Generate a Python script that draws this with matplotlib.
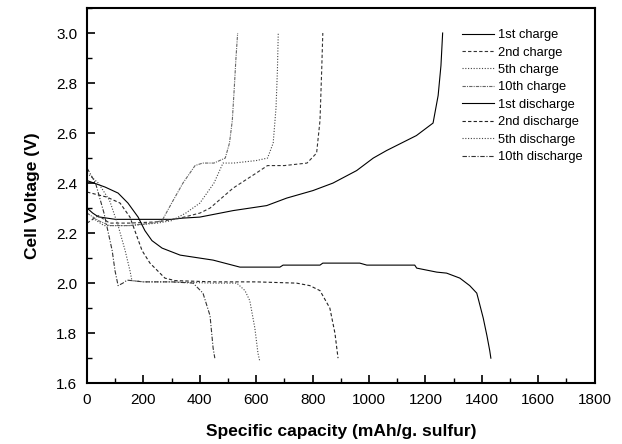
import matplotlib
matplotlib.use("Agg")
import matplotlib.pyplot as plt
from matplotlib.ticker import MultipleLocator

plt.rcParams['font.family'] = ['Liberation Sans', 'DejaVu Sans']

# charge curves (capacity in mAh/g sulfur, voltage in V)
c1_x = [0, 20, 40, 100, 200, 300, 340, 400, 518, 637, 708, 801, 872, 956, 1015, 1062, 1168, 1227, 1245, 1255, 1261]
c1_y = [2.30, 2.28, 2.265, 2.255, 2.255, 2.255, 2.26, 2.264, 2.29, 2.31, 2.34, 2.37, 2.40, 2.45, 2.50, 2.53, 2.59, 2.64, 2.75, 2.87, 3.0]

c2_x = [0, 40, 80, 150, 250, 330, 400, 436, 518, 600, 640, 700, 780, 814, 826, 832, 836]
c2_y = [2.24, 2.27, 2.24, 2.24, 2.245, 2.26, 2.28, 2.30, 2.38, 2.44, 2.47, 2.47, 2.48, 2.52, 2.65, 2.85, 3.0]

c5_x = [20, 60, 150, 250, 300, 350, 400, 450, 482, 520, 600, 640, 660, 670, 675, 678]
c5_y = [2.26, 2.23, 2.23, 2.24, 2.25, 2.28, 2.32, 2.40, 2.48, 2.48, 2.49, 2.50, 2.56, 2.70, 2.85, 3.0]

c10_x = [0, 40, 80, 150, 230, 266, 300, 340, 383, 410, 450, 490, 505, 515, 522, 528, 534]
c10_y = [2.28, 2.25, 2.23, 2.23, 2.24, 2.25, 2.32, 2.40, 2.47, 2.48, 2.48, 2.50, 2.56, 2.65, 2.78, 2.90, 3.0]

# discharge curves
d1_x = [0, 64, 110, 145, 181, 205, 230, 266, 330, 447, 542, 684, 695, 826, 836, 967, 992, 1162, 1169,
        1240, 1275, 1322, 1357, 1382, 1389, 1405, 1418, 1428, 1432]
d1_y = [2.41, 2.384, 2.36, 2.32, 2.264, 2.21, 2.17, 2.14, 2.112, 2.092, 2.064, 2.064, 2.072, 2.072, 2.08, 2.08, 2.072, 2.072, 2.06,
        2.044, 2.04, 2.02, 1.99, 1.96, 1.93, 1.86, 1.79, 1.73, 1.70]

d2_x = [0, 70, 117, 152, 195, 223, 276, 312, 450, 600, 743, 790, 826, 861, 879, 890]
d2_y = [2.364, 2.344, 2.32, 2.264, 2.13, 2.08, 2.02, 2.01, 2.005, 2.005, 2.0, 1.99, 1.97, 1.90, 1.80, 1.70]

d5_x = [0, 40, 80, 110, 135, 152, 159, 200, 300, 450, 531, 560, 577, 595, 606, 612]
d5_y = [2.44, 2.40, 2.33, 2.23, 2.13, 2.05, 2.01, 2.005, 2.005, 2.0, 2.0, 1.97, 1.93, 1.82, 1.72, 1.69]

d10_x = [0, 30, 60, 89, 99, 110, 127, 142, 200, 300, 376, 411, 436, 447, 453]
d10_y = [2.46, 2.40, 2.28, 2.13, 2.05, 1.99, 2.00, 2.012, 2.005, 2.005, 2.0, 1.96, 1.87, 1.74, 1.70]

fig = plt.figure(figsize=(6.22, 4.44), dpi=100)
ax = fig.add_axes([0.14, 0.137, 0.816, 0.845])

lw = 0.8
ax.plot(c1_x, c1_y, color='black', lw=lw, ls='-', label='1st charge')
ax.plot(c2_x, c2_y, color='#333333', lw=lw, ls=(0, (3, 2)), label='2nd charge')
ax.plot(c5_x, c5_y, color='#444444', lw=lw, ls=(0, (1, 1.5)), label='5th charge')
ax.plot(c10_x, c10_y, color='#666666', lw=lw, ls=(0, (3, 1, 1, 1)), label='10th charge')
ax.plot(d1_x, d1_y, color='black', lw=lw, ls='-', label='1st discharge')
ax.plot(d2_x, d2_y, color='#222222', lw=lw, ls=(0, (3, 2)), label='2nd discharge')
ax.plot(d5_x, d5_y, color='#444444', lw=lw, ls=(0, (1, 1.5)), label='5th discharge')
ax.plot(d10_x, d10_y, color='#333333', lw=lw, ls=(0, (4, 1.5, 1, 1.5)), label='10th discharge')

ax.set_xlim(0, 1800)
ax.set_ylim(1.6, 3.1)
ax.xaxis.set_major_locator(MultipleLocator(200))
ax.xaxis.set_minor_locator(MultipleLocator(100))
ax.yaxis.set_major_locator(MultipleLocator(0.2))
ax.yaxis.set_minor_locator(MultipleLocator(0.1))
ax.yaxis.set_major_formatter(matplotlib.ticker.FormatStrFormatter('%.1f'))
ax.tick_params(which='major', direction='in', length=6, width=1.2, labelsize=11, pad=7)
ax.tick_params(which='minor', direction='in', length=3.5, width=1.0)
for s in ax.spines.values():
    s.set_linewidth(1.5)

ax.set_xlabel('Specific capacity (mAh/g. sulfur)', fontsize=12.5, fontweight='bold', labelpad=12)
ax.set_ylabel('Cell Voltage (V)', fontsize=12.5, fontweight='bold', labelpad=12)

ax.legend(loc='upper right', bbox_to_anchor=(1.0, 0.975), frameon=False, fontsize=9.3,
          handlelength=2.5, handletextpad=0.35, labelspacing=0.42)

fig.savefig('out.png', dpi=100)
